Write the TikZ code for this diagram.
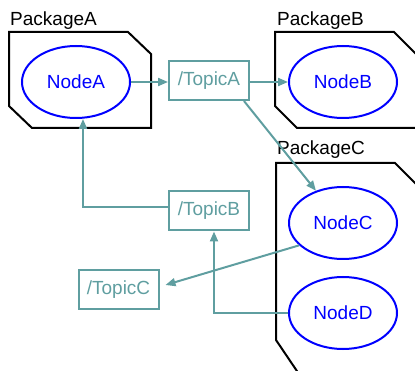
\documentclass[tikz,border=0pt]{standalone}
\usepackage{fontspec}
\setmainfont{Liberation Sans}
\usetikzlibrary{shapes.geometric,arrows.meta}
\definecolor{teal1}{HTML}{5F9EA0}
\begin{document}
\begin{tikzpicture}[x=1pt,y=-1pt,
  pkg/.style={draw=black,line width=2pt,line join=miter},
  pkglabel/.style={anchor=base west,inner sep=0pt,font=\fontsize{19}{22}\selectfont},
  rosnode/.style={ellipse,draw=blue,line width=2pt,text=blue,minimum width=108pt,minimum height=72pt,inner sep=0pt,font=\fontsize{19}{22}\selectfont},
  topic/.style={rectangle,draw=teal1,line width=2pt,text=teal1,minimum width=80pt,minimum height=39pt,inner sep=0pt,font=\fontsize{19}{22}\selectfont},
  conn/.style={draw=teal1,line width=2pt,-{Triangle[length=10pt,width=8pt]}}]
\useasboundingbox (0,0) rectangle (415,371);
\begin{scope}
\clip (0,0) rectangle (415,371);
\draw[pkg] (9,32) -- (128,32) -- (151,54) -- (151,128) -- (32,128) -- (9,106) -- cycle;
\draw[pkg] (275,32) -- (394,32) -- (417,55) -- (417,128) -- (297,128) -- (275,106) -- cycle;
\draw[pkg] (303,380) -- (276,340) -- (276,163) -- (395,163) -- (420,188);
\end{scope}
\node[pkglabel] (labA) at (10,26) {PackageA};
\node[pkglabel] (labB) at (277,26) {PackageB};
\node[pkglabel] (labC) at (277,155) {PackageC};

\node[rosnode] (NodeA) at (76,82) {NodeA};
\node[rosnode] (NodeB) at (343,82) {NodeB};
\node[rosnode] (NodeC) at (343,223) {NodeC};
\node[rosnode] (NodeD) at (343,313) {NodeD};

\node[topic] (TopicA) at (209,80.5) {/TopicA};
\node[topic] (TopicB) at (209,211) {/TopicB};
\node[topic] (TopicC) at (118.5,290) {/TopicC};

\draw[conn] (NodeA.east) -- (NodeA.east -| TopicA.west);
\draw[conn] (NodeB.west -| TopicA.east) -- (NodeB.west);
\draw[conn] ([xshift=-6pt]TopicA.south east) -- (NodeC.130);
\draw[conn] (NodeC.207) -- ([xshift=6pt,yshift=5pt]TopicC.east);
\draw[conn] ([yshift=4pt]TopicB.west) -| ([xshift=7pt]NodeA.south);
\draw[conn] (NodeD.west) -| ([xshift=5pt]TopicB.south);
\end{tikzpicture}
\end{document}
